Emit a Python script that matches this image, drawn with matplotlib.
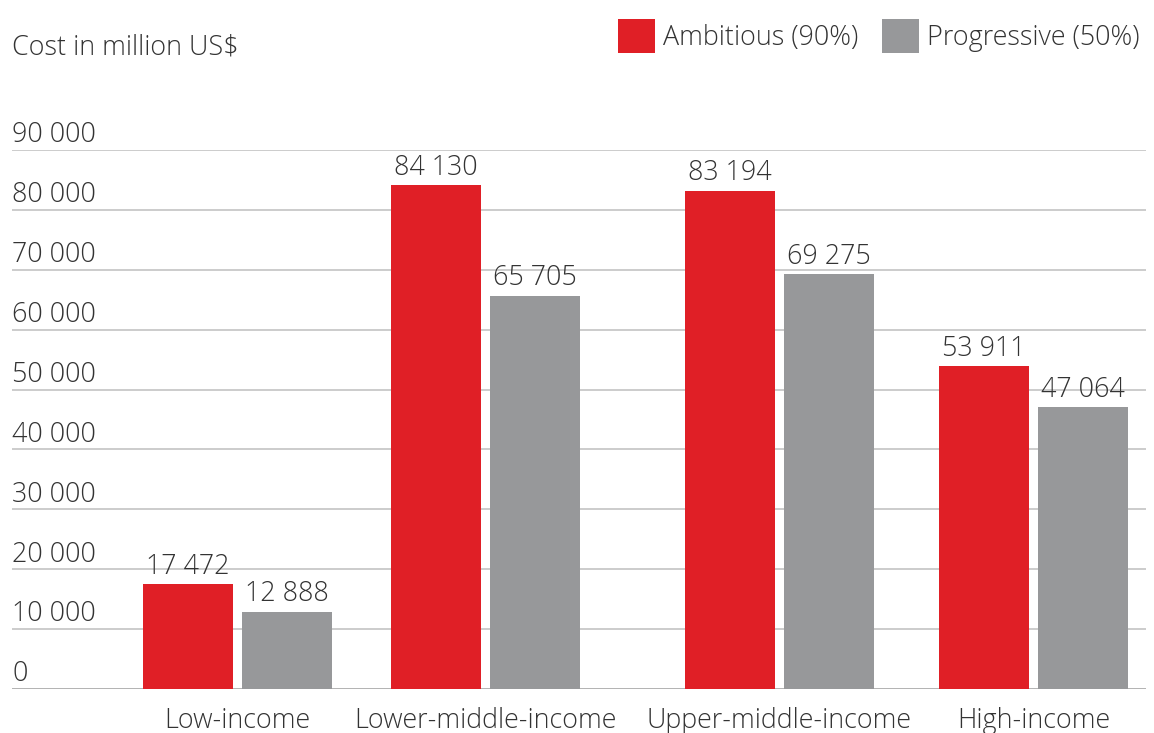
import numpy as np
import matplotlib.pyplot as plt

plt.rcParams['font.family'] = ['Open Sans', 'DejaVu Sans']
plt.rcParams['font.weight'] = 'light'

categories = ["Low-income", "Lower-middle-income", "Upper-middle-income", "High-income"]
ambitious = [17472, 84130, 83194, 53911]
progressive = [12888, 65705, 69275, 47064]
series_names = ["Ambitious (90%)", "Progressive (50%)"]
yticks = [0, 10000, 20000, 30000, 40000, 50000, 60000, 70000, 80000, 90000]

# group centres are not evenly spaced in the original
group_pos = np.array([0.0, 1.0, 2.185, 3.21])
bar_w = 0.363
offset = 0.2

red = "#e01f26"
grey = "#97989a"
txt = "#333333"
fs = 19.4

fig = plt.figure(figsize=(11.54, 7.33), dpi=100)
ax = fig.add_axes([12 / 1154, 44 / 733, 1134 / 1154, 539 / 733])

ax.set_xlim(-0.909, 3.663)
ax.set_ylim(0, 90000)

for v in yticks:
    ax.axhline(v, color="#c4c4c4" if v else "#a6a6a6", lw=1.2, zorder=1)
    ax.annotate(f"{v:,}".replace(",", " "), (0, v), xycoords=ax.get_yaxis_transform(),
                xytext=(0, 5.5), textcoords="offset points", ha="left", va="baseline",
                fontsize=fs, color=txt)

b1 = ax.bar(group_pos - offset, ambitious, bar_w, color=red, zorder=2, label=series_names[0])
b2 = ax.bar(group_pos + offset, progressive, bar_w, color=grey, zorder=2, label=series_names[1])

for bars, vals in ((b1, ambitious), (b2, progressive)):
    for r, v in zip(bars, vals):
        ax.annotate(f"{v:,}".replace(",", " "), (r.get_x() + r.get_width() / 2, v),
                    xytext=(0, 7.5), textcoords="offset points", ha="center", va="baseline",
                    fontsize=fs, color=txt)

ax.set_xticks(group_pos)
ax.set_xticklabels(categories, fontsize=fs, color=txt)
ax.tick_params(axis="x", length=0, pad=13)
ax.set_yticks([])
for s in ax.spines.values():
    s.set_visible(False)

fig.text(12 / 1154, 1 - 55 / 733, "Cost in million US$", fontsize=fs, color=txt,
         ha="left", va="baseline")

leg = fig.legend(handles=[b1, b2], loc="upper right", bbox_to_anchor=(1150 / 1154, 1 - 8 / 733),
                 ncol=2, frameon=False, fontsize=fs, handlelength=1.37, handleheight=1.6,
                 handletextpad=0.3, columnspacing=0.85, borderaxespad=0)
for t in leg.get_texts():
    t.set_color(txt)

fig.savefig("out.png", dpi=100)
